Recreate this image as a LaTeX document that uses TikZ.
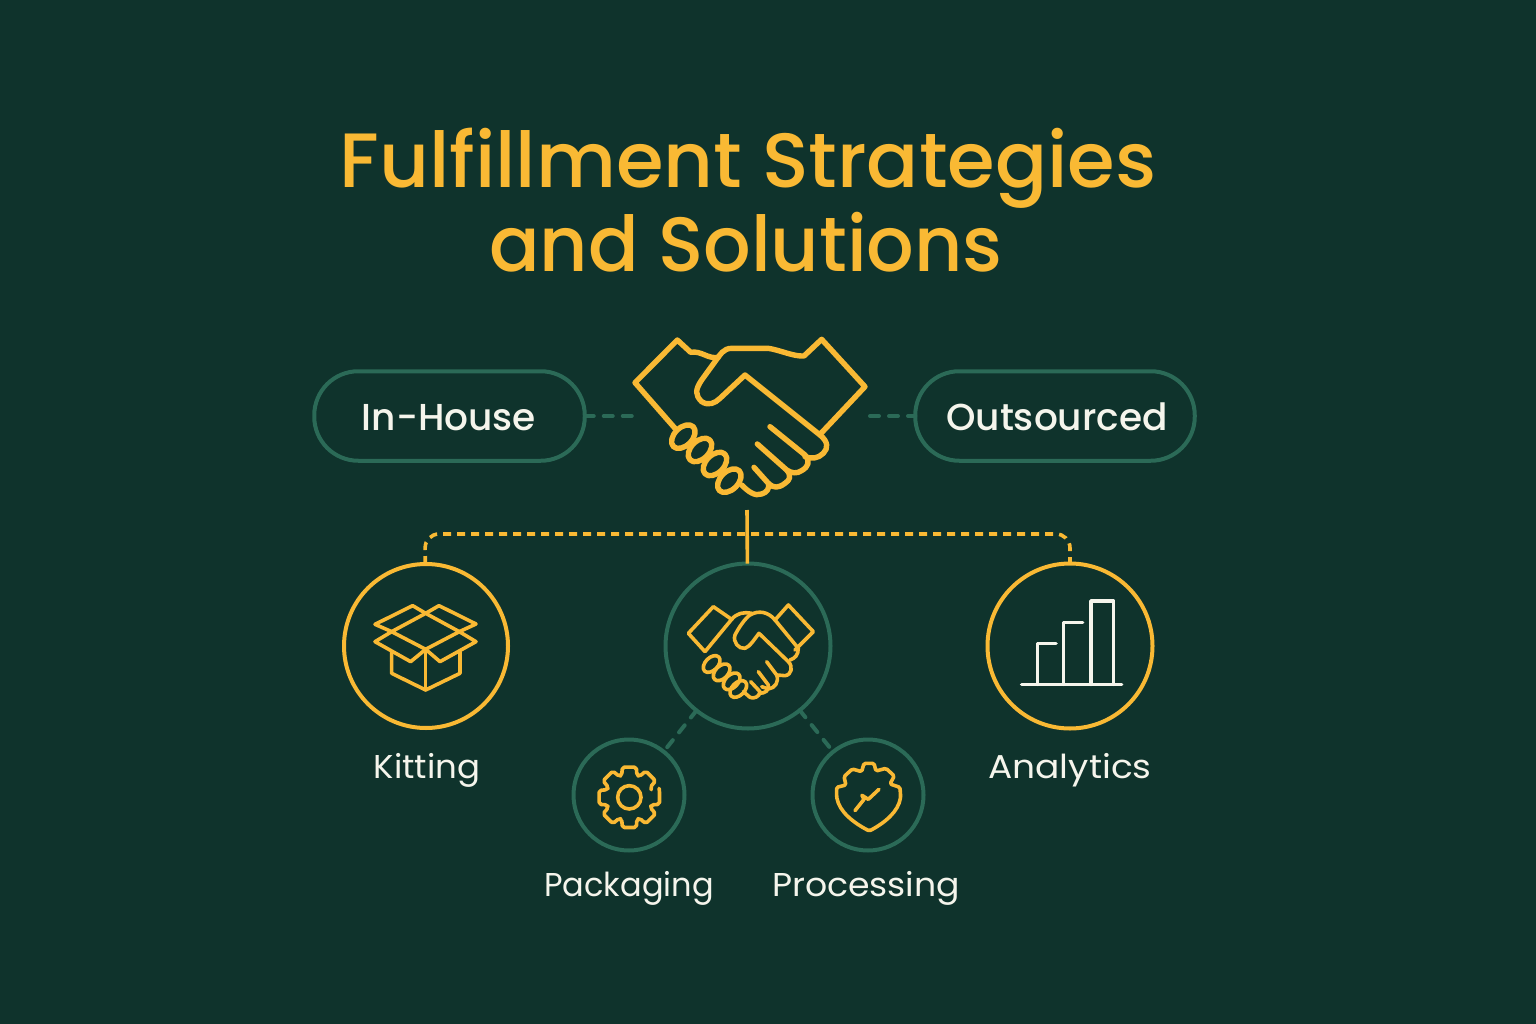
\documentclass[tikz,border=0pt]{standalone}
\usepackage{graphicx}
\usepackage{fontspec}
\setmainfont{Poppins}
\newfontfamily\titlefont{Poppins}[UprightFont=* Medium]
\newfontfamily\pillfont{Poppins}[UprightFont=* Medium]
\definecolor{bgc}{HTML}{0F332C}
\definecolor{gold}{HTML}{F9B934}
\definecolor{teal}{HTML}{2B6A57}
\definecolor{cream}{HTML}{F5F5EC}
\tikzset{
  pillbox/.style={draw=teal,line width=4pt,rounded corners=44pt,minimum width=270.5pt,minimum height=89.5pt,inner sep=0pt,outer sep=0pt},
  bigring/.style={circle,line width=4pt,minimum size=164pt,inner sep=0pt,outer sep=0pt},
  smallring/.style={circle,draw=teal,line width=4pt,minimum size=111pt,inner sep=0pt,outer sep=0pt},
  titletext/.style={anchor=base,text=gold,inner sep=0pt,font=\titlefont\fontsize{77}{90}\selectfont},
  pilltext/.style={anchor=base,text=cream,inner sep=0pt,font=\pillfont\fontsize{37.5}{44}\selectfont},
  labeltext/.style={anchor=base,text=cream,inner sep=0pt,font=\fontsize{33}{40}\selectfont},
  iconline/.style={draw=gold,line width=3.6pt,line join=round,line cap=round},
  bigicon/.style={draw=gold,line width=5.4pt,line join=round,line cap=round},
  tealdash/.style={draw=teal,line width=4pt,line cap=round,dash pattern=on 9pt off 10pt},
  golddash/.style={draw=gold,line width=3.6pt,dash pattern=on 8pt off 6pt,rounded corners=14pt},
}
\begin{document}
\begin{tikzpicture}[x=1pt,y=-1pt]
\useasboundingbox (0,0) rectangle (1536,1024);
\fill[bgc] (0,0) rectangle (1536,1024);

\node[titletext] (t1) at (748,188) {Fulfillment Strategies};
\node[titletext] (t2) at (746,272) {\scalebox{0.97}[1]{and Solutions}};

\node[pillbox] (inh) at (449.5,416) {};
\node[pillbox,minimum width=279.5pt] (out) at (1055,416) {};
\node[pilltext] (inht) at (449,430) {In-House};
\node[pilltext] (outt) at (1057,430) {Outsourced};

\coordinate (hsl) at (638,416);
\coordinate (hsr) at (870,416);
\coordinate (hsb) at (747,510);
\draw[tealdash] (inh) -- (hsl);
\draw[tealdash] (hsr) -- (out);

\node[bigring,draw=gold] (kit) at (426,646) {};
\node[bigring,draw=teal,minimum size=165pt] (mid) at (748,646) {};
\node[bigring,draw=gold,minimum size=165pt] (ana) at (1070,646) {};
\node[smallring] (pac) at (629,795) {};
\node[smallring] (pro) at (868,795) {};

\draw[gold,line width=3.6pt] (hsb) -- (mid);
\draw[golddash] (kit) -- (425,534) -- (1070,534) -- (ana);
\draw[tealdash] (mid) -- (pac);
\draw[tealdash] (mid) -- (pro);

\node[labeltext] (kitt) at (427,778) {\scalebox{1.03}[1]{Kitting}};
\node[labeltext] (anat) at (1070,778) {\scalebox{1.09}[1]{Analytics}};
\node[labeltext] (pact) at (629,896) {\scalebox{0.97}[1]{Packaging}};
\node[labeltext] (prot) at (866,896) {\scalebox{1.05}[1]{Processing}};

% big handshake
\begin{scope}[shift={(620,320)},scale=0.3333]
\draw[bigicon] (165,325) -- (45,188) -- (172,60) -- (212,97) to[out=10,in=190] (295,112);
\draw[bigicon] (605,338) -- (735,200) -- (605,58) -- (552,108) .. controls (520,110) and (480,90) .. (445,85) -- (335,85) .. controls (310,85) and (300,105) .. (290,118) -- (245,180) .. controls (225,210) and (225,225) .. (245,245) .. controls (265,258) and (285,250) .. (300,235) -- (375,165) -- (600,345) .. controls (625,365) and (625,385) .. (610,400) .. controls (595,415) and (575,418) .. (555,410);
\draw[bigicon] (450,320) -- (555,405) .. controls (572,425) and (565,440) .. (545,452) .. controls (530,462) and (515,460) .. (500,450);
\draw[bigicon] (412,372) -- (500,450) .. controls (515,468) and (510,480) .. (495,490) .. controls (475,505) and (460,505) .. (445,490);
\draw[bigicon] (402,442) -- (445,490) .. controls (450,505) and (440,518) .. (425,522) .. controls (405,530) and (385,515) .. (365,495);
\foreach \kx/\ky in {190/350,240/390,285/432,328/482}
  \draw[bigicon,rotate around={-45:(\kx,\ky)}] (\kx,\ky) ellipse [x radius=27,y radius=42];
\end{scope}

% box icon
\begin{scope}[shift={(340,560)},scale=0.3333]
\draw[iconline] (257,160) -- (358,215) -- (257,268) -- (155,215) -- cycle;
\draw[iconline] (155,215) -- (105,193) -- (218,137) -- (257,160) -- (297,137) -- (408,192) -- (358,215);
\draw[iconline] (155,215) -- (105,245) -- (212,305) -- (257,268) -- (300,305) -- (408,245) -- (358,215);
\draw[iconline] (155,275) -- (155,340) -- (257,390) -- (360,340) -- (360,275);
\draw[iconline] (257,268) -- (257,390);
\end{scope}

% small handshake
\begin{scope}[shift={(660,560)},scale=0.3333]
\draw[iconline] (135,275) -- (85,220) -- (160,140) -- (215,178) -- (135,275);
\draw[iconline] (405,270) -- (460,215) -- (385,135) -- (345,180);
\draw[iconline] (215,178) .. controls (230,160) and (250,155) .. (275,160);
\draw[iconline] (345,180) -- (415,265) .. controls (415,285) and (405,295) .. (390,300);
\draw[iconline] (345,180) .. controls (325,155) and (295,150) .. (270,165) .. controls (255,175) and (235,205) .. (225,225) .. controls (218,245) and (235,268) .. (255,265) .. controls (270,260) and (285,235) .. (297,220) -- (385,305) .. controls (400,320) and (395,345) .. (375,347) -- (350,345);
\draw[iconline] (320,305) -- (350,345) .. controls (358,365) and (345,385) .. (325,387) -- (305,380);
\draw[iconline] (295,335) -- (325,375) .. controls (328,392) and (315,400) .. (298,400);
\draw[iconline] (272,365) -- (300,395) .. controls (300,410) and (280,418) .. (270,412) -- (250,395);
\foreach \kx/\ky in {155/312,185/337,215/364,235/387}
  \draw[iconline,rotate around={-45:(\kx,\ky)}] (\kx,\ky) ellipse [x radius=19,y radius=30];
\end{scope}

% bars
\begin{scope}[shift={(980,560)},scale=0.3333]
\draw[iconline,draw=cream] (125,373) -- (425,373);
\draw[iconline,draw=cream] (172,373) -- (172,250) -- (228,250);
\draw[iconline,draw=cream] (250,373) -- (250,187) -- (308,187);
\draw[iconline,draw=cream] (333,373) -- (333,123) -- (400,123) -- (400,373);
\end{scope}

% gear and shield
\begin{scope}[shift={(560,700)},scale=0.3333]
\draw[iconline] (208,292) circle [radius=35];
\begin{scope}[shift={(208,292)}]
\draw[iconline,rounded corners=2pt] (-14:93)
  \foreach \a in {0,45,...,315} { -- (\a-13:93) -- (\a+13:93) -- (\a+19:70) -- (\a+26:70) };
\end{scope}
\draw[iconline,rounded corners=1.5pt] (830,262) -- (858,255) -- (852,230) -- (877,207) -- (905,215) -- (912,190) -- (942,190) -- (948,213) -- (978,205) -- (1003,228) -- (990,252) -- (1020,262) -- (1022,290) .. controls (1015,335) and (975,368) .. (928,393) .. controls (880,368) and (838,335) .. (830,290) -- cycle;
\draw[iconline] (885,332) -- (912,298) -- (906,286) -- (925,298) -- (957,268);
\end{scope}
\end{tikzpicture}
\end{document}
